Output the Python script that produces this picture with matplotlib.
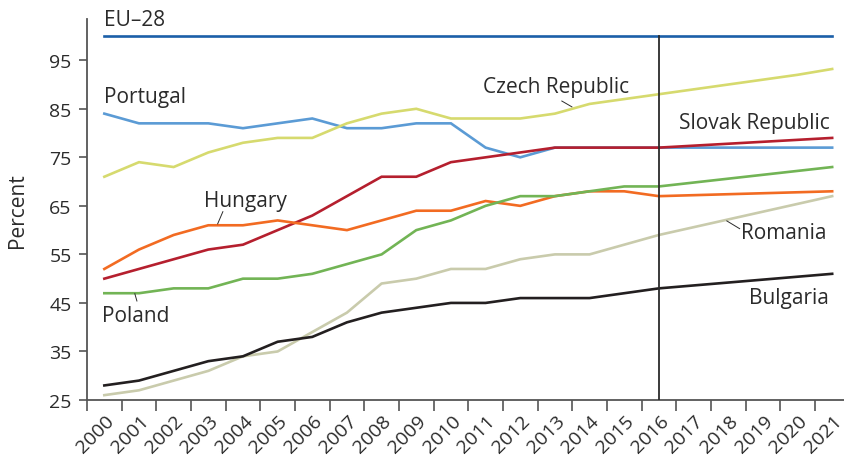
import matplotlib
matplotlib.use("Agg")
import matplotlib.pyplot as plt
import matplotlib.transforms as mtransforms
import numpy as np

plt.rcParams["font.family"] = ["Open Sans", "DejaVu Sans"]

# ── Data ──────────────────────────────────────────────────────────────────────
years = list(range(2000, 2022))

eu28     = [100] * 22
portugal = [84, 82, 82, 82, 81, 82, 83, 81, 81, 82, 82, 77, 75, 77, 77, 77, 77, 77, 77, 77, 77, 77]
czech    = [71, 74, 73, 76, 78, 79, 79, 82, 84, 85, 83, 83, 83, 84, 86, 87, 88, 89, 90, 91, 92, 93.2]
slovak   = [50, 52, 54, 56, 57, 60, 63, 67, 71, 71, 74, 75, 76, 77, 77, 77, 77, 77.4, 77.8, 78.2, 78.6, 79]
hungary  = [52, 56, 59, 61, 61, 62, 61, 60, 62, 64, 64, 66, 65, 67, 68, 68, 67, 67.2, 67.4, 67.6, 67.8, 68]
poland   = [47, 47, 48, 48, 50, 50, 51, 53, 55, 60, 62, 65, 67, 67, 68, 69, 69, 69.8, 70.6, 71.4, 72.2, 73]
romania  = [26, 27, 29, 31, 34, 35, 39, 43, 49, 50, 52, 52, 54, 55, 55, 57, 59, 60.6, 62.2, 63.8, 65.4, 67]
bulgaria = [28, 29, 31, 33, 34, 37, 38, 41, 43, 44, 45, 45, 46, 46, 46, 47, 48, 48.6, 49.2, 49.8, 50.4, 51]

yticks = [25, 35, 45, 55, 65, 75, 85, 95]
split_year = 2016

series = [
    (eu28,     "#1b5fa8"),
    (portugal, "#5b9bd5"),
    (czech,    "#d6da6e"),
    (slovak,   "#b51f2e"),
    (hungary,  "#f26b22"),
    (poland,   "#72b455"),
    (romania,  "#c9cbac"),
    (bulgaria, "#231f20"),
]

TEXT = "#2b2b2b"
LABEL_FS = 15
TICK_FS = 14

# ── Figure ────────────────────────────────────────────────────────────────────
fig = plt.figure(figsize=(8.44, 4.64), dpi=100)
ax = fig.add_axes([87 / 844, 63 / 464, (849.5 - 87) / 844, (444 - 63) / 464])

x = np.arange(len(years))
for vals, col in series:
    ax.plot(x, vals, color=col, linewidth=1.9, solid_joinstyle="miter", zorder=3)

split_x = years.index(split_year)
ax.plot([split_x, split_x], [25, 100], color="#2b2b2b", linewidth=1.3, zorder=4)

ax.set_xlim(-0.5, len(years) - 0.5)
ax.set_ylim(25, 103.5)

# ── Axes styling ──────────────────────────────────────────────────────────────
for side in ("top", "right"):
    ax.spines[side].set_visible(False)
for side in ("left", "bottom"):
    ax.spines[side].set_color("#555555")
    ax.spines[side].set_linewidth(1.3)

ax.set_yticks(yticks)
ax.tick_params(axis="y", direction="out", length=6, width=1.2, color="#555555",
               labelsize=TICK_FS, labelcolor=TEXT, pad=5)

ax.set_xticks(x)
ax.set_xticks(np.arange(-0.5, len(years)), minor=True)
ax.tick_params(axis="x", which="major", length=0, pad=8)
ax.tick_params(axis="x", which="minor", direction="out", length=8, width=1.2, color="#555555")
ax.set_xticklabels([str(y) for y in years], rotation=45, ha="right", va="center",
                   rotation_mode="anchor", fontsize=TICK_FS, color=TEXT)
offset = mtransforms.ScaledTranslation(7 / 100, -7 / 100, fig.dpi_scale_trans)
for lbl in ax.get_xticklabels():
    lbl.set_transform(lbl.get_transform() + offset)

ax.set_ylabel("Percent", fontsize=LABEL_FS, color=TEXT)
ax.yaxis.set_label_coords(-0.077, 0.5)

# ── Series labels ─────────────────────────────────────────────────────────────
def lab(xd, yd, s, ha="left"):
    ax.text(xd, yd, s, fontsize=LABEL_FS, color=TEXT, ha=ha, va="baseline", zorder=5)

lab(-0.02, 102.3, "EU–28")
lab(-0.02, 86.4, "Portugal")
lab(10.92, 88.4, "Czech Republic")
lab(20.93, 81.1, "Slovak Republic", ha="right")
lab(2.87, 65.0, "Hungary")
lab(-0.08, 41.3, "Poland")
lab(20.85, 58.4, "Romania", ha="right")
lab(20.9, 45.0, "Bulgaria", ha="right")

# leader lines
leaders = [
    ([13.2, 13.49], [86.6, 85.4]),   # Czech Republic
    ([3.42, 3.27], [63.8, 61.3]),    # Hungary
    ([0.88, 0.94], [46.9, 45.4]),    # Poland
    ([17.96, 18.33], [61.9, 60.3]),  # Romania
]
for lx, ly in leaders:
    ax.plot(lx, ly, color=TEXT, linewidth=0.7, zorder=5)

fig.savefig("out.png", dpi=100)
